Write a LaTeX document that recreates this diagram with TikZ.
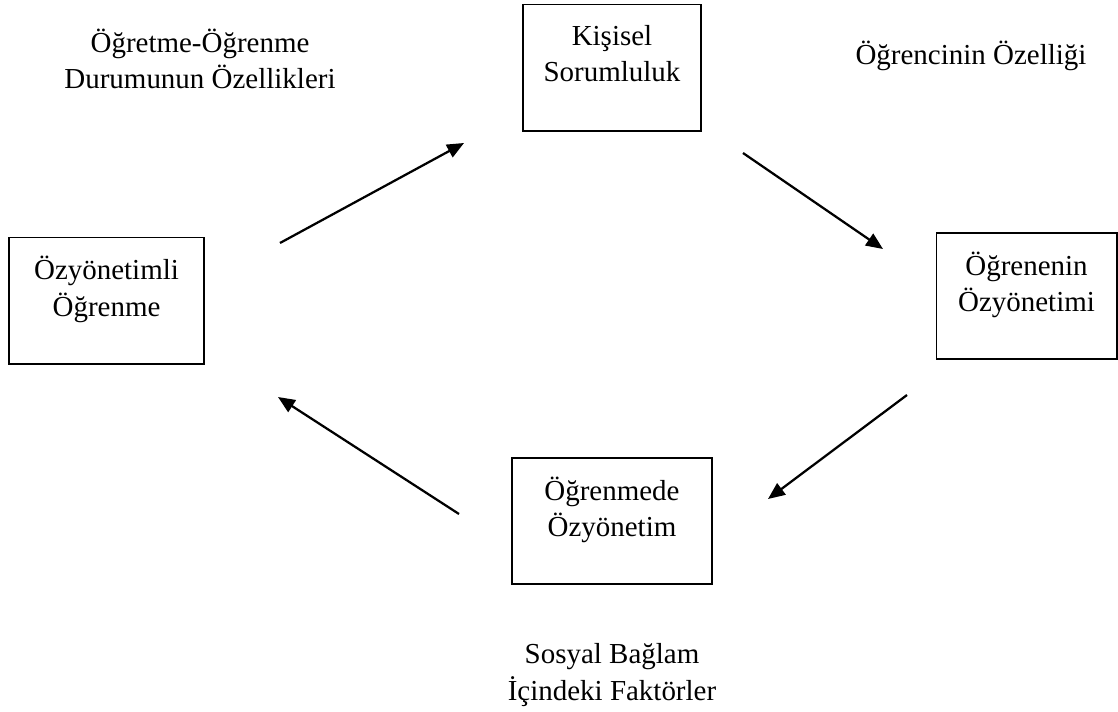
\documentclass[tikz,border=0pt]{standalone}
\usepackage{fontspec}
\setmainfont{Liberation Serif}
\usepackage{tikz}
\usetikzlibrary{positioning, arrows, arrows.meta}

\tikzset{
  box/.style={draw, line width=1.4pt, align=center, minimum height=3.15cm, inner sep=0pt},
  label/.style={align=center},
  arr/.style={-{Triangle[length=12pt, width=10pt]}, line width=1.6pt}
}

\begin{document}
\begin{tikzpicture}[x=0.025cm, y=-0.025cm, every node/.style={font=\fontsize{20.6}{26}\selectfont}]
\useasboundingbox (0,0) rectangle (1118,711);
% boxes
\node[box, minimum width=4.85cm] (OY) at (106.5,300.5) {Özyönetimli\\Öğrenme\\[-6pt]~};
\node[box, minimum width=4.45cm] (KS) at (612,67.5) {Kişisel\\Sorumluluk\\[-6pt]~};
\node[box, minimum width=4.5cm] (OE) at (1026.5,296) {Öğrenenin\\Özyönetimi\\[-6pt]~};
\node[box, minimum width=5cm] (OM) at (612,521) {Öğrenmede\\Özyönetim\\[-6pt]~};
% factors
\node[label] (DO) at (200,59) {Öğretme-Öğrenme\\Durumunun Özellikleri};
\node[label] (OZ) at (971,56) {Öğrencinin Özelliği};
\node[label] (SB) at (612,675) {Sosyal Bağlam\\İçindeki Faktörler};
% arrow ends
\coordinate (a1) at (280,243);
\coordinate (b1) at (464,143);
\coordinate (a2) at (743,153);
\coordinate (b2) at (883,249);
\coordinate (a3) at (907,395);
\coordinate (b3) at (768,499);
\coordinate (a4) at (459,514);
\coordinate (b4) at (278,397);
\draw[arr] (a1)--(b1);
\draw[arr] (a2)--(b2);
\draw[arr] (a3)--(b3);
\draw[arr] (a4)--(b4);
\end{tikzpicture}
\end{document}
